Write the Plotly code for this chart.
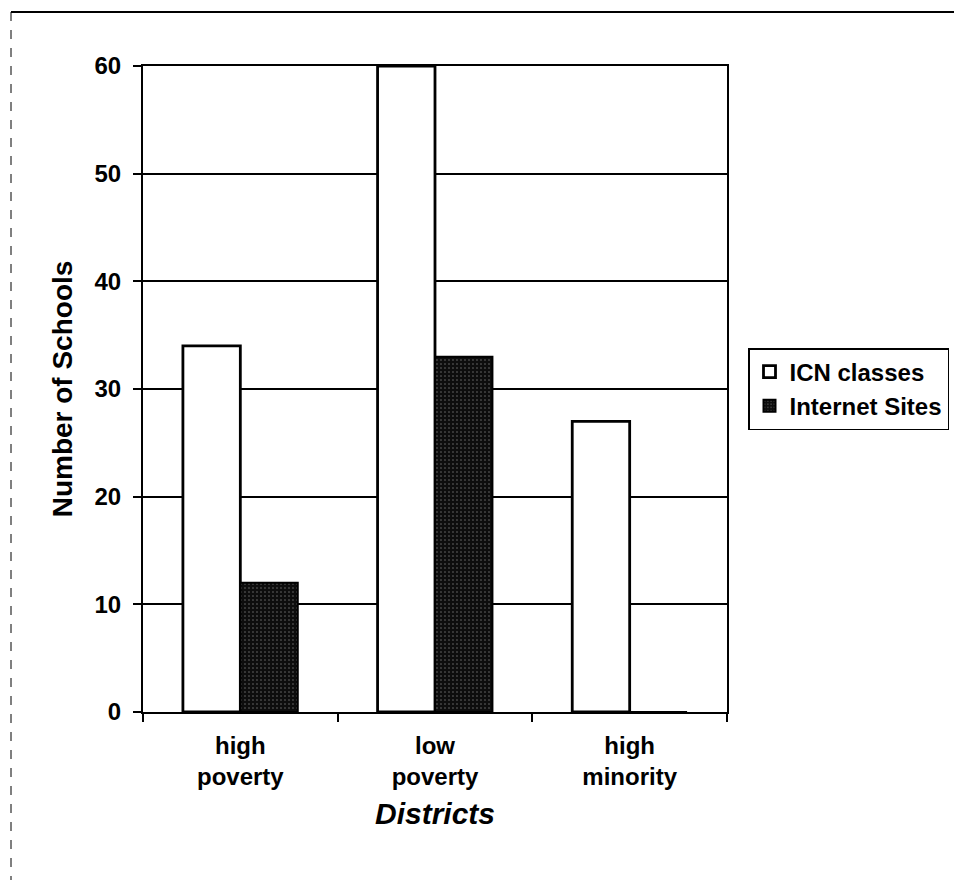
import plotly.graph_objects as go

categories = ["high<br>poverty", "low<br>poverty", "high<br>minority"]
icn_classes = [34, 60, 27]
internet_sites = [12, 33, 0]
y_ticks = [0, 10, 20, 30, 40, 50, 60]

FONT = "Liberation Sans, Arial, sans-serif"

# page body has an 8px margin; work in page coords and shift
OFF = 8
W, H = 962 - OFF, 880 - OFF
L = 143 - OFF
T = 66 - OFF
R = W - (727 - OFF)
B = H - (712 - OFF)
pw, ph = W - L - R, H - T - B


def px(x):
    return (x - OFF - L) / pw


def py(y):
    return (H - B - (y - OFF)) / ph


fig = go.Figure()
fig.add_trace(go.Bar(
    x=categories, y=icn_classes, name="ICN classes",
    marker=dict(color="white", line=dict(color="black", width=2.8)),
))
fig.add_trace(go.Bar(
    x=categories, y=internet_sites, name="Internet Sites",
    marker=dict(color="#0d0d0d", line=dict(color="black", width=2),
                pattern=dict(shape=".", bgcolor="#0d0d0d", fgcolor="#d0d0d0",
                             size=4, solidity=0.12)),
))

fig.update_layout(
    width=W, height=H,
    margin=dict(l=L, r=R, t=T, b=B, autoexpand=False),
    paper_bgcolor="white", plot_bgcolor="white",
    barmode="group", bargap=0.41, bargroupgap=0,
    font=dict(family=FONT, size=24, color="black"),
    showlegend=True,
    legend=dict(x=px(748), y=py(348), xanchor="left", yanchor="top",
                bordercolor="black", borderwidth=1.5, bgcolor="white",
                font=dict(family=FONT, size=24, color="black", weight="bold"),
                itemwidth=30, tracegroupgap=0),
    xaxis=dict(
        tickson="boundaries", ticks="outside", ticklen=8, tickcolor="black",
        tickwidth=1.5,
        showline=True, linecolor="black", linewidth=2, mirror=True,
        showgrid=False, ticklabelstandoff=11,
        tickfont=dict(family=FONT, size=24, weight="bold"),
        title=dict(text="Districts", standoff=14,
                   font=dict(family=FONT, size=30, weight="bold", style="italic")),
    ),
    yaxis=dict(
        range=[0, 60], tickvals=y_ticks, ticks="outside", ticklen=8,
        tickwidth=1.5,
        tickcolor="black", showline=True, linecolor="black", linewidth=2,
        mirror=True, showgrid=True, gridcolor="black", gridwidth=1.5,
        zeroline=False, ticklabelstandoff=7,
        tickfont=dict(family=FONT, size=24, weight="bold"),
        title=dict(text="Number of Schools", standoff=14,
                   font=dict(family=FONT, size=28, weight="bold")),
    ),
    shapes=[
        dict(type="line", xref="paper", yref="paper",
             x0=px(11), x1=px(962), y0=py(12), y1=py(12),
             line=dict(color="black", width=2)),
        dict(type="line", xref="paper", yref="paper",
             x0=px(11), x1=px(11), y0=py(12), y1=py(880),
             line=dict(color="black", width=1, dash="dash")),
    ],
)

fig.write_html("out.html")
